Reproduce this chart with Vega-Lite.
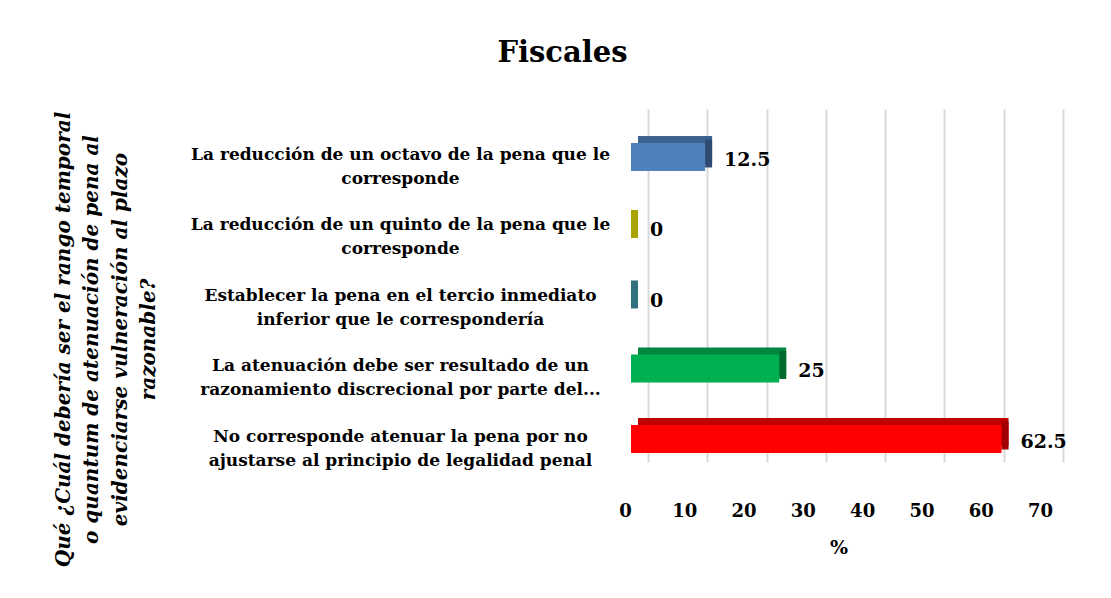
{
  "$schema": "https://vega.github.io/schema/vega-lite/v6.json",
  "width": 415,
  "height": 353,
  "autosize": {"type": "none"},
  "padding": {"left": 631, "top": 109, "right": 65, "bottom": 136},
  "background": "white",
  "title": {"text": "Fiscales", "font": "DejaVu Serif", "fontSize": 29, "fontWeight": "bold", "color": "#000000", "anchor": "middle", "frame": "group", "dx": -276, "offset": 18, "baseline": "alphabetic"},
  "config": {"view": {"stroke": null}},
  "data": {
    "values": [
      {"cat": "La reducción de un octavo de la pena que le|corresponde", "value": 12.5},
      {"cat": "La reducción de un quinto de la pena que le|corresponde", "value": 0},
      {"cat": "Establecer la pena en el tercio inmediato|inferior que le correspondería", "value": 0},
      {"cat": "La atenuación debe ser resultado de un|razonamiento discrecional por parte del...", "value": 25},
      {"cat": "No corresponde atenuar la pena por no|ajustarse al principio de legalidad penal", "value": 62.5}
    ]
  },
  "encoding": {
    "y": {
      "field": "cat", "type": "nominal", "sort": null,
      "scale": {"paddingInner": 0.603, "paddingOuter": 0.305, "align": 0.79},
      "axis": {
        "title": ["Qué ¿Cuál debería ser el rango temporal", "o quantum de atenuación de pena al", "evidenciarse vulneración al plazo", "razonable?"],
        "titleFont": "DejaVu Serif", "titleFontSize": 20, "titleFontStyle": "italic", "titleFontWeight": "bold", "titleColor": "#000000",
        "titleLineHeight": 28.5, "titleAngle": -90, "titleX": -568, "titleY": 230, "titleAlign": "center", "titleBaseline": "middle",
        "labelExpr": "split(datum.label, '|')",
        "labelFont": "DejaVu Serif", "labelFontSize": 17, "labelFontWeight": "bold", "labelColor": "#000000",
        "labelAlign": "center", "labelBaseline": "middle", "labelPadding": 231, "labelLineHeight": 24, "labelOffset": -2, "labelLimit": 0,
        "ticks": false, "domain": false, "grid": false
      }
    },
    "x": {
      "field": "value", "type": "quantitative",
      "scale": {"domain": [0, 70], "nice": false},
      "axis": {
        "values": [0, 10, 20, 30, 40, 50, 60, 70], "title": "%",
        "grid": true, "gridColor": "#D9D9D9", "gridWidth": 2, "tickOffset": 17, "labelOffset": -23,
        "ticks": false, "domain": false, "labelFlush": false, "labelOverlap": false,
        "labelFont": "DejaVu Serif", "labelFontSize": 18, "labelFontWeight": "bold", "labelColor": "#000000", "labelPadding": 40,
        "titleFont": "DejaVu Serif", "titleFontSize": 19, "titleFontWeight": "bold", "titleColor": "#000000", "titlePadding": 18
      }
    }
  },
  "layer": [
    {
      "mark": {"type": "bar", "xOffset": 7, "x2Offset": 7, "yOffset": -7},
      "encoding": {
        "x2": {"datum": 0},
        "color": {"field": "cat", "type": "nominal", "legend": null,
          "scale": {"domain": ["La reducción de un octavo de la pena que le|corresponde", "La reducción de un quinto de la pena que le|corresponde", "Establecer la pena en el tercio inmediato|inferior que le correspondería", "La atenuación debe ser resultado de un|razonamiento discrecional por parte del...", "No corresponde atenuar la pena por no|ajustarse al principio de legalidad penal"],
            "range": ["#3C6290", "#8F8F00", "#28606E", "#00863E", "#C00000"]}}
      }
    },
    {
      "mark": {"type": "bar", "x2Offset": 7, "yOffset": -3.5},
      "encoding": {
        "x2": {"field": "value"},
        "color": {"field": "cat", "type": "nominal", "legend": null,
          "scale": {"domain": ["La reducción de un octavo de la pena que le|corresponde", "La reducción de un quinto de la pena que le|corresponde", "Establecer la pena en el tercio inmediato|inferior que le correspondería", "La atenuación debe ser resultado de un|razonamiento discrecional por parte del...", "No corresponde atenuar la pena por no|ajustarse al principio de legalidad penal"],
            "range": ["#2F4B72", "#A8A300", "#31707E", "#006B30", "#A00000"]}}
      }
    },
    {
      "mark": {"type": "bar"},
      "encoding": {
        "x2": {"datum": 0},
        "color": {"field": "cat", "type": "nominal", "legend": null,
          "scale": {"domain": ["La reducción de un octavo de la pena que le|corresponde", "La reducción de un quinto de la pena que le|corresponde", "Establecer la pena en el tercio inmediato|inferior que le correspondería", "La atenuación debe ser resultado de un|razonamiento discrecional por parte del...", "No corresponde atenuar la pena por no|ajustarse al principio de legalidad penal"],
            "range": ["#4F81BD", "#B5B500", "#31859C", "#00B050", "#FF0000"]}}
      }
    },
    {
      "mark": {"type": "text", "align": "left", "baseline": "middle", "dx": 19, "dy": 3, "font": "DejaVu Serif", "fontSize": 19, "fontWeight": "bold", "color": "#000000"},
      "encoding": {
        "text": {"field": "value", "type": "quantitative"}
      }
    }
  ],
  "resolve": {"scale": {"color": "independent"}}
}
